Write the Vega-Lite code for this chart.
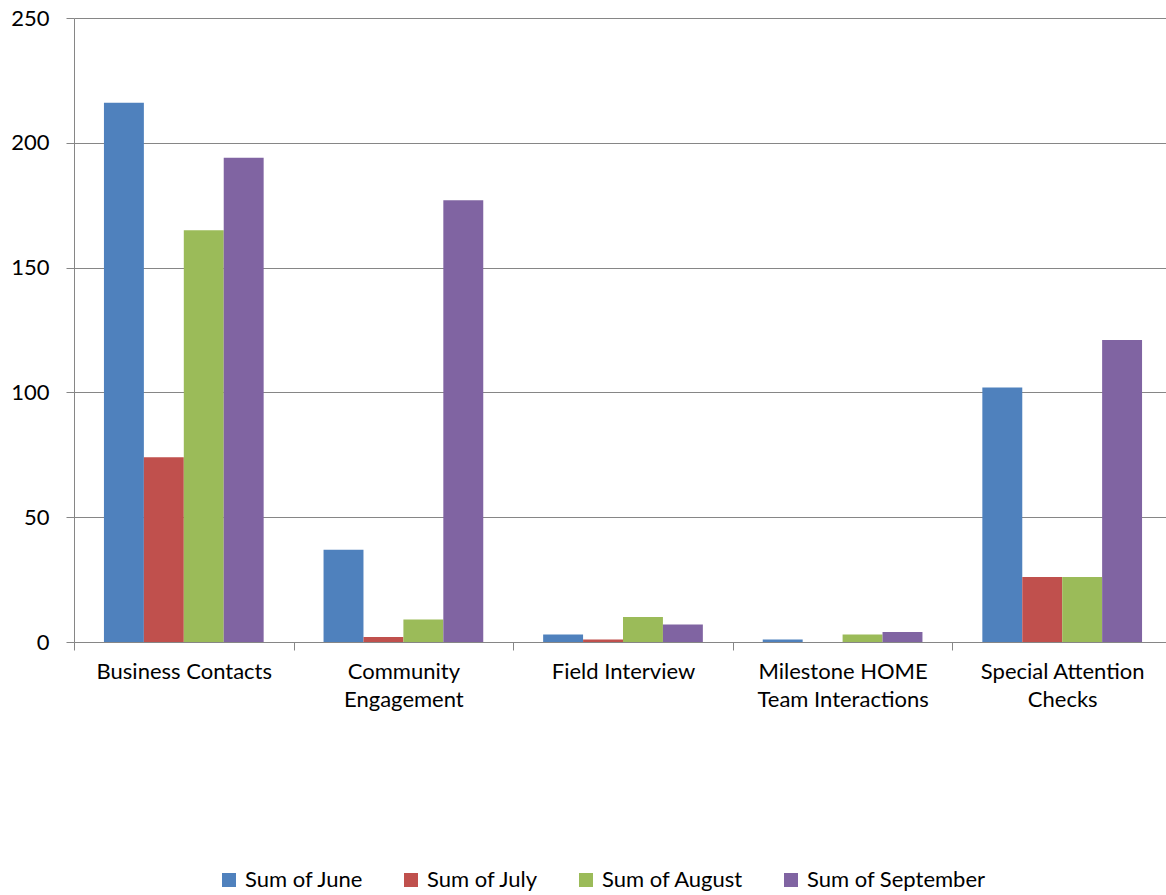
{
  "$schema": "https://vega.github.io/schema/vega-lite/v6.json",
  "autosize": "none",
  "padding": {"left": 74, "top": 18, "right": 0, "bottom": 253},
  "width": 1098,
  "height": 624,
  "background": "white",
  "config": {"view": {"stroke": null}, "font": "Lato"},
  "data": {"values": [
    {"category": "Business Contacts", "series": "Sum of June", "value": 216},
    {"category": "Business Contacts", "series": "Sum of July", "value": 74},
    {"category": "Business Contacts", "series": "Sum of August", "value": 165},
    {"category": "Business Contacts", "series": "Sum of September", "value": 194},
    {"category": "Community Engagement", "series": "Sum of June", "value": 37},
    {"category": "Community Engagement", "series": "Sum of July", "value": 2},
    {"category": "Community Engagement", "series": "Sum of August", "value": 9},
    {"category": "Community Engagement", "series": "Sum of September", "value": 177},
    {"category": "Field Interview", "series": "Sum of June", "value": 3},
    {"category": "Field Interview", "series": "Sum of July", "value": 1},
    {"category": "Field Interview", "series": "Sum of August", "value": 10},
    {"category": "Field Interview", "series": "Sum of September", "value": 7},
    {"category": "Milestone HOME Team Interactions", "series": "Sum of June", "value": 1},
    {"category": "Milestone HOME Team Interactions", "series": "Sum of July", "value": 0},
    {"category": "Milestone HOME Team Interactions", "series": "Sum of August", "value": 3},
    {"category": "Milestone HOME Team Interactions", "series": "Sum of September", "value": 4},
    {"category": "Special Attention Checks", "series": "Sum of June", "value": 102},
    {"category": "Special Attention Checks", "series": "Sum of July", "value": 26},
    {"category": "Special Attention Checks", "series": "Sum of August", "value": 26},
    {"category": "Special Attention Checks", "series": "Sum of September", "value": 121}
  ]},
  "mark": {"type": "bar"},
  "encoding": {
    "x": {
      "field": "category", "type": "nominal", "sort": null,
      "scale": {"paddingInner": 0, "paddingOuter": 0},
      "axis": {
        "title": null, "labelAngle": 0, "tickBand": "extent",
        "domainColor": "#868686", "tickColor": "#868686", "tickSize": 8,
        "labelFont": "Lato", "labelFontSize": 22, "labelColor": "black",
        "labelPadding": 11, "labelLineHeight": 28, "labelLimit": 300,
        "labelExpr": "datum.value == 'Community Engagement' ? ['Community', 'Engagement'] : datum.value == 'Milestone HOME Team Interactions' ? ['Milestone HOME', 'Team Interactions'] : datum.value == 'Special Attention Checks' ? ['Special Attention', 'Checks'] : datum.value"
      }
    },
    "xOffset": {"field": "series", "type": "nominal", "sort": ["Sum of June", "Sum of July", "Sum of August", "Sum of September"], "scale": {"paddingInner": 0, "paddingOuter": 0.75}},
    "y": {
      "field": "value", "type": "quantitative",
      "scale": {"domain": [0, 250], "nice": false},
      "axis": {
        "title": null, "values": [0, 50, 100, 150, 200, 250],
        "grid": true, "gridColor": "#868686", "gridWidth": 1,
        "domainColor": "#868686", "tickColor": "#868686", "tickSize": 8,
        "labelFont": "Lato", "labelFontSize": 22, "labelColor": "black", "labelPadding": 17
      }
    },
    "color": {
      "field": "series", "type": "nominal",
      "sort": ["Sum of June", "Sum of July", "Sum of August", "Sum of September"],
      "scale": {"domain": ["Sum of June", "Sum of July", "Sum of August", "Sum of September"], "range": ["#4F81BD", "#C0504D", "#9BBB59", "#8064A2"]},
      "legend": {
        "title": null, "orient": "none", "direction": "horizontal",
        "legendX": 144, "legendY": 851,
        "symbolType": "square", "symbolSize": 196, "symbolStrokeWidth": 0,
        "labelFont": "Lato", "labelFontSize": 22, "labelColor": "black", "labelLimit": 300,
        "labelOffset": 5, "columnPadding": 36
      }
    }
  }
}
